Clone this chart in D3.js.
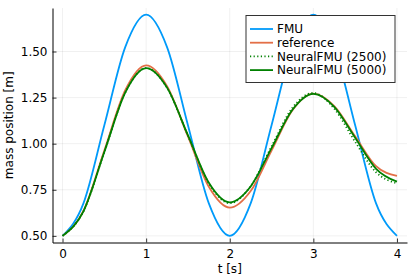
<!DOCTYPE html>
<html>
<head>
<meta charset="utf-8">
<script src="https://cdn.jsdelivr.net/npm/d3@7"></script>
<style>
  body { margin: 0; background: #fff; }
  svg { display: block; font-family: "DejaVu Sans", sans-serif; }
</style>
</head>
<body>
<svg id="chart" width="415" height="277"></svg>
<script>
// ---- data ----
var times = [0, 0.25, 0.5, 0.75, 1, 1.25, 1.5, 1.75, 2, 2.25, 2.5, 2.75, 3, 3.25, 3.5, 3.75, 4];

var fmu       = [0.50, 0.676, 1.10, 1.524, 1.70, 1.524, 1.10, 0.676, 0.50, 0.676, 1.10, 1.524, 1.70, 1.524, 1.10, 0.676, 0.50];
var reference = [0.50, 0.635, 0.963, 1.29, 1.425, 1.312, 1.039, 0.766, 0.653, 0.743, 0.963, 1.182, 1.272, 1.204, 1.04, 0.878, 0.825];
var nfmu2500  = [0.50, 0.633, 0.955, 1.277, 1.41, 1.303, 1.044, 0.785, 0.677, 0.770, 0.985, 1.195, 1.275, 1.19, 1.01, 0.845, 0.785];
var nfmu5000  = [0.50, 0.633, 0.955, 1.277, 1.41, 1.304, 1.046, 0.788, 0.682, 0.768, 0.976, 1.184, 1.27, 1.20, 1.032, 0.864, 0.794];

var xTicks = [0, 1, 2, 3, 4];
var yTicks = [0.50, 0.75, 1.00, 1.25, 1.50];

var seriesNames = ["FMU", "reference", "NeuralFMU (2500)", "NeuralFMU (5000)"];

// ---- layout ----
var svg = d3.select("#chart");
var plotLeft = 52.5, plotRight = 407, plotTop = 8, plotBottom = 242.5;

var x = d3.scaleLinear().domain([-0.12, 4.12]).range([plotLeft, plotRight]);
var y = d3.scaleLinear().domain([0.464, 1.736]).range([plotBottom, plotTop]);

// grid
svg.append("g").selectAll("line").data(xTicks).join("line")
    .attr("x1", d => x(d)).attr("x2", d => x(d))
    .attr("y1", plotTop).attr("y2", plotBottom)
    .attr("stroke", "#000").attr("stroke-opacity", 0.1).attr("stroke-width", 0.6);
svg.append("g").selectAll("line").data(yTicks).join("line")
    .attr("x1", plotLeft).attr("x2", plotRight)
    .attr("y1", d => y(d)).attr("y2", d => y(d))
    .attr("stroke", "#000").attr("stroke-opacity", 0.1).attr("stroke-width", 0.6);

// series
var series = [
    { name: seriesNames[0], values: fmu,       color: "#009AFA", dash: null },
    { name: seriesNames[1], values: reference, color: "#E36F47", dash: null },
    { name: seriesNames[2], values: nfmu2500,  color: "#008000", dash: "1.2,2.4" },
    { name: seriesNames[3], values: nfmu5000,  color: "#008000", dash: null }
];

var line = d3.line()
    .x(function(d, i) { return x(times[i]); })
    .y(function(d) { return y(d); })
    .curve(d3.curveMonotoneX);

series.forEach(function(s) {
    svg.append("path")
        .attr("d", line(s.values))
        .attr("fill", "none")
        .attr("stroke", s.color)
        .attr("stroke-width", 1.8)
        .attr("stroke-dasharray", s.dash);
});

// axes
var xAxis = d3.axisBottom(x).tickValues(xTicks).tickFormat(d3.format("d")).tickSizeInner(-4).tickSizeOuter(0).tickPadding(7);
var yAxis = d3.axisLeft(y).tickValues(yTicks).tickFormat(d3.format(".2f")).tickSizeInner(-4).tickSizeOuter(0).tickPadding(5);

var gx = svg.append("g").attr("transform", "translate(0," + plotBottom + ")").call(xAxis);
var gy = svg.append("g").attr("transform", "translate(" + plotLeft + ",0)").call(yAxis);
[gx, gy].forEach(function(g) {
    g.select(".domain").attr("stroke", "#000").attr("stroke-width", 1);
    g.selectAll(".tick line").attr("stroke", "#000").attr("stroke-width", 0.8);
    g.selectAll(".tick text").attr("font-size", 12).attr("fill", "#000")
        .attr("font-family", "DejaVu Sans, sans-serif");
});

// axis labels
svg.append("text").attr("x", (plotLeft + plotRight) / 2).attr("y", 273)
    .attr("text-anchor", "middle").attr("font-size", 12).text("t [s]");
svg.append("text").attr("transform", "translate(13," + ((plotTop + plotBottom) / 2) + ") rotate(-90)")
    .attr("text-anchor", "middle").attr("font-size", 12).text("mass position [m]");

// legend
var lg = svg.append("g");
lg.append("rect").attr("x", 246).attr("y", 15.5).attr("width", 149).attr("height", 67)
    .attr("fill", "#fff").attr("stroke", "#333").attr("stroke-width", 1);
series.forEach(function(s, i) {
    var yy = 29 + i * 13.7;
    lg.append("line").attr("x1", 250).attr("x2", 273).attr("y1", yy).attr("y2", yy)
        .attr("stroke", s.color).attr("stroke-width", 1.8).attr("stroke-dasharray", s.dash);
    lg.append("text").attr("x", 277).attr("y", yy + 4.3).attr("font-size", 12).text(s.name);
});
</script>
</body>
</html>
